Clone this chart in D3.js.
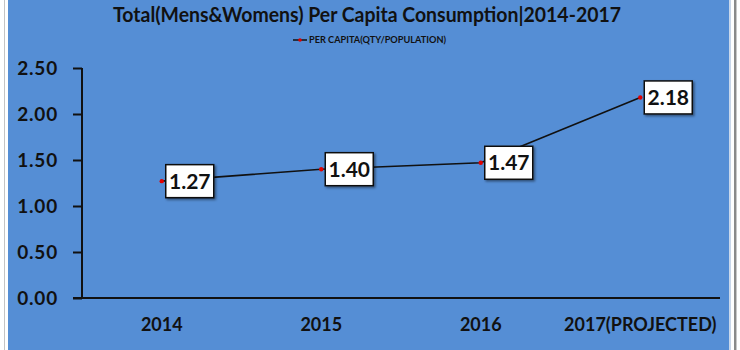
<!DOCTYPE html>
<html><head><meta charset="utf-8">
<script src="https://cdn.jsdelivr.net/npm/d3@7/dist/d3.min.js"></script>
<style>body{margin:0;background:#fff}svg{display:block}text{font-family:Lato,"Open Sans",sans-serif;font-weight:bold;fill:#111}</style>
</head><body>
<svg id="c" width="740" height="350"></svg>
<script>
const title = "Total(Mens&Womens) Per Capita Consumption|2014-2017";
const seriesName = "PER CAPITA(QTY/POPULATION)";
const categories = ["2014", "2015", "2016", "2017(PROJECTED)"];
const values = [1.27, 1.40, 1.47, 2.18];
const yTicks = [0, 0.5, 1.0, 1.5, 2.0, 2.5];

const svg = d3.select("#c");
// frame
svg.append("rect").attr("x",4).attr("y",0).attr("width",1).attr("height",350).attr("fill","#c4c4c4");
svg.append("rect").attr("x",729).attr("y",0).attr("width",2).attr("height",350).attr("fill","#c9d7ea");
svg.append("rect").attr("x",734).attr("y",0).attr("width",2).attr("height",350).attr("fill","#8a8a8a");
svg.append("rect").attr("x",736).attr("y",0).attr("width",1).attr("height",350).attr("fill","#c8c8c8");
svg.append("rect").attr("x",8).attr("y",0).attr("width",721).attr("height",350).attr("fill","#558ed5");

const defs = svg.append("defs");
const f = defs.append("filter").attr("id","sh").attr("x","-20%").attr("y","-20%").attr("width","150%").attr("height","150%");
f.append("feDropShadow").attr("dx",1.5).attr("dy",1.5).attr("stdDeviation",0.8).attr("flood-color","#000").attr("flood-opacity",0.45);

const x = d3.scaleBand().domain(categories).range([82, 720]);
const y = d3.scaleLinear().domain([0, 2.5]).range([298, 68]);

// title
svg.append("text").attr("x",367).attr("y",22).attr("text-anchor","middle")
  .style("font-size","21px").attr("textLength",508).attr("lengthAdjust","spacingAndGlyphs").text(title);

// legend
const lg = svg.append("g");
lg.append("line").attr("x1",293).attr("x2",307).attr("y1",40).attr("y2",40).attr("stroke","#111").attr("stroke-width",1.5);
lg.append("circle").attr("cx",300).attr("cy",40).attr("r",1.8).attr("fill","#e00000");
lg.append("text").attr("x",309).attr("y",43.2).style("font-size","9px")
  .attr("textLength",137).attr("lengthAdjust","spacingAndGlyphs").text(seriesName);

// y axis
const yAxis = d3.axisLeft(y).tickValues(yTicks).tickFormat(d3.format(".2f")).tickSize(9).tickPadding(15);
const ga = svg.append("g").attr("transform","translate(82,0)").call(yAxis);
ga.select(".domain").attr("stroke","#111").attr("stroke-width",2).attr("d","M0,68V298");
ga.selectAll(".tick line").attr("stroke","#111").attr("stroke-width",2);
ga.selectAll(".tick text").style("font-size","19px").style("letter-spacing","0.8px").attr("fill","#111")
  .style("font-family","Lato,sans-serif").style("font-weight","bold").attr("dy","0.35em");

// x axis
const xAxis = d3.axisBottom(x).tickSize(0).tickPadding(27);
const gx = svg.append("g").attr("transform","translate(0,298)").call(xAxis);
gx.select(".domain").attr("stroke","#111").attr("stroke-width",2).attr("d","M73,0H720");
gx.selectAll(".tick text").style("font-size","18px").attr("fill","#111")
  .style("font-family","Lato,sans-serif").style("font-weight","bold").attr("dy","0.35em");

// line
const cx = d => x(d) + x.bandwidth()/2;
const line = d3.line().x((d,i)=>cx(categories[i])).y(d=>y(d));
svg.append("path").datum(values).attr("d",line).attr("fill","none").attr("stroke","#111").attr("stroke-width",1.6);
svg.selectAll("circle.pt").data(values).join("circle").attr("class","pt")
  .attr("cx",(d,i)=>cx(categories[i])).attr("cy",d=>y(d)).attr("r",2.2).attr("fill","#e00000");

// data labels
const lab = svg.selectAll("g.lab").data(values).join("g").attr("class","lab")
  .attr("transform",(d,i)=>`translate(${cx(categories[i])+4},${y(d)})`);
lab.append("rect").attr("x",0).attr("y",-16.5).attr("width",48).attr("height",33)
  .attr("fill","#fff").attr("stroke","#111").attr("stroke-width",1.5).attr("filter","url(#sh)");
lab.append("text").attr("x",24).attr("y",0).attr("dy","0.36em").attr("text-anchor","middle")
  .style("font-size","21px").text(d=>d.toFixed(2));
</script>
</body></html>
